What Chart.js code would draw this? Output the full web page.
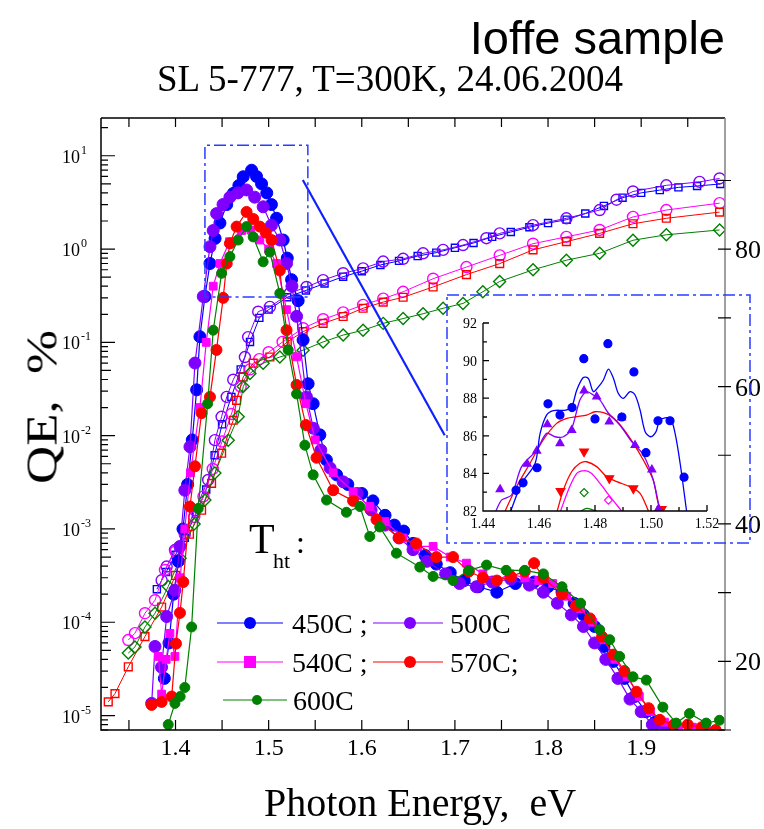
<!DOCTYPE html>
<html>
<head>
<meta charset="utf-8">
<script src="https://cdn.jsdelivr.net/npm/chart.js@4.4.1/dist/chart.umd.min.js"></script>
<style>
body { margin:0; background:#fff; }
#wrap { position:relative; width:764px; height:829px; overflow:hidden; }
#main { position:absolute; left:0; top:0; }
#inset { position:absolute; left:440px; top:290px; }
.txt { position:absolute; white-space:nowrap; color:#000; line-height:1; }
</style>
</head>
<body>
<div id="wrap">
  <canvas id="main" width="764" height="829"></canvas>
  <canvas id="inset" width="320" height="260"></canvas>
  <div class="txt" id="ioffe" style="right:39px;top:10px;font:47px 'Liberation Sans',Arial,sans-serif;">Ioffe sample</div>
  <div class="txt" id="title" style="left:390px;top:57px;transform:translateX(-50%);font:37px 'Liberation Serif','Times New Roman',serif;">SL 5-777, T=300K, 24.06.2004</div>
  <div class="txt" id="xtitle" style="left:420px;top:779px;transform:translateX(-50%);font:40px 'Liberation Serif','Times New Roman',serif;">Photon Energy,&nbsp; eV</div>
  <div class="txt" id="ytitle" style="left:42px;top:407px;transform:translate(-50%,-50%) rotate(-90deg) scaleX(1.2);font:44px 'Liberation Serif','Times New Roman',serif;">QE,&nbsp; %</div>
</div>
<script>
// ---- tick labels ----
var xMajor = [1.4, 1.5, 1.6, 1.7, 1.8, 1.9];
var xMinor = [1.35, 1.45, 1.55, 1.65, 1.75, 1.85, 1.95];
var qeDecades = [1e-5, 1e-4, 1e-3, 1e-2, 1e-1, 1e0, 1e1];
var qeExponents = ["-5", "-4", "-3", "-2", "-1", "0", "1"];
var rightMajor = [20, 40, 60, 80];
var rightMinor = [10, 30, 50, 70, 90];
var insetXTicks = [1.44, 1.46, 1.48, 1.50, 1.52];
var insetXLabels = ["1.44", "1.46", "1.48", "1.50", "1.52"];
var insetYTicks = [82, 84, 86, 88, 90, 92];

// ---- legend ----
var legendNames = ["450C ;", "500C", "540C ;", "570C;", "600C"];

// ---- QE, filled markers (left log axis) [eV, %] ----
var qe450 = [
 [1.388,2.5e-5],[1.393,6e-5],[1.398,2e-4],[1.403,4.5e-4],[1.408,1.0e-3],[1.413,3e-3],[1.418,9e-3],
 [1.4227,0.031],[1.4262,0.115],[1.4316,0.31],[1.437,0.70],[1.4425,1.3],[1.4477,1.9],[1.455,3.0],
 [1.462,3.95],[1.468,4.8],[1.4727,5.96],[1.4817,7.0],[1.487,6.0],[1.4924,5.0],[1.498,4.0],
 [1.503,3.0],[1.5085,2.14],[1.5156,1.25],[1.520,0.8],[1.5246,0.47],[1.5317,0.28],[1.537,0.106],
 [1.5424,0.036],[1.5478,0.022],[1.555,0.0102],[1.562,0.0055],[1.573,0.0038],[1.585,0.0030],
 [1.600,0.0024],[1.612,0.0020],[1.625,0.0014],[1.635,0.0011],[1.645,0.00095],[1.655,0.0007],
 [1.668,0.00052],[1.680,0.00042],[1.695,0.00034],[1.710,0.00028],[1.725,0.00024],[1.745,0.00021],
 [1.765,0.00026],[1.785,0.00027],[1.800,0.00024],[1.815,0.00021],[1.828,0.00016],[1.838,0.00012],
 [1.850,9e-5],[1.860,5.5e-5],[1.870,3.8e-5],[1.882,2.5e-5],[1.893,1.6e-5],[1.905,1.1e-5],
 [1.915,8.5e-6],[1.925,7.2e-6]
];
var qe500 = [
 [1.3744,1.35e-5],[1.378,5.5e-5],[1.385,3.3e-5],[1.3905,1.15e-4],[1.3994,2.2e-4],[1.4047,6.5e-4],
 [1.410,2.6e-3],[1.4155,7.6e-3],[1.4209,0.06],[1.4298,0.31],[1.437,1.06],[1.4405,1.58],[1.4441,2.4],
 [1.451,3.0],[1.4584,3.6],[1.467,4.0],[1.4763,4.3],[1.485,3.6],[1.4941,2.84],[1.503,1.8],[1.512,1.25],
 [1.5192,0.70],[1.525,0.4],[1.530,0.19],[1.5406,0.026],[1.548,0.012],[1.556,0.007],[1.566,0.0045],
 [1.580,0.0032],[1.595,0.0024],[1.610,0.0016],[1.625,0.0011],[1.640,0.0008],[1.655,0.0006],
 [1.670,0.00045],[1.690,0.00033],[1.705,0.00026],[1.723,0.00024],[1.740,0.00027],[1.760,0.00029],
 [1.780,0.00025],[1.795,0.00021],[1.810,0.00016],[1.825,0.00012],[1.838,9e-5],[1.850,6e-5],
 [1.862,4e-5],[1.875,2.5e-5],[1.888,1.5e-5],[1.900,1.1e-5],[1.912,8e-6],[1.923,7e-6]
];
var qe540 = [
 [1.3815,4.3e-5],[1.3851,1.7e-5],[1.390,4e-5],[1.394,7.6e-5],[1.3994,4.3e-5],[1.405,3e-4],
 [1.410,1e-3],[1.416,4e-3],[1.4262,0.02],[1.433,0.1],[1.4405,0.40],[1.4477,0.70],[1.458,1.2],
 [1.471,1.58],[1.481,1.6],[1.4906,1.25],[1.500,1.0],[1.5085,0.70],[1.5192,0.224],[1.530,0.070],
 [1.540,0.022],[1.550,0.009],[1.5693,0.0040],[1.5907,0.0025],[1.6086,0.00174],[1.625,0.0012],
 [1.6444,0.0008],[1.660,0.00065],[1.6766,0.00065],[1.695,0.0005],[1.7124,0.00043],[1.730,0.00033],
 [1.745,0.00028],[1.759,0.00033],[1.775,0.00030],[1.790,0.00028],[1.805,0.00026],[1.820,0.00019],
 [1.835,0.00014],[1.848,1e-4],[1.860,6.5e-5],[1.872,4e-5],[1.885,2.6e-5],[1.898,1.6e-5],
 [1.910,1.1e-5],[1.925,8.5e-6],[1.940,7.5e-6],[1.955,7.5e-6],[1.970,7e-6]
];
var qe570 = [
 [1.3744,1.3e-5],[1.3851,1.4e-5],[1.3959,1.6e-5],[1.4005,5.9e-5],[1.4048,1.26e-4],[1.4083,2.7e-4],
 [1.4155,1.74e-3],[1.4209,4.7e-3],[1.428,0.0174],[1.437,0.026],[1.444,0.083],[1.4512,0.3],[1.455,0.7],
 [1.4584,1.15],[1.4656,1.74],[1.4763,2.5],[1.4835,2.1],[1.4906,1.74],[1.497,1.5],[1.5031,1.25],
 [1.512,0.59],[1.5192,0.135],[1.530,0.035],[1.540,0.013],[1.5514,0.0058],[1.5693,0.0026],
 [1.5907,0.0020],[1.6158,0.00126],[1.640,0.0008],[1.6585,0.0007],[1.680,0.0005],[1.698,0.0005],
 [1.715,0.00035],[1.730,0.0003],[1.745,0.00028],[1.760,0.00031],[1.775,0.00035],[1.785,0.00043],
 [1.795,0.00030],[1.815,0.00020],[1.830,0.00015],[1.845,0.00011],[1.858,7e-5],[1.870,4.5e-5],
 [1.882,3e-5],[1.895,1.8e-5],[1.908,1.2e-5],[1.920,9e-6],[1.935,8e-6],[1.950,8e-6],[1.965,7.5e-6],[1.980,7e-6]
];
var qe600 = [
 [1.3922,8e-6],[1.3994,1.35e-5],[1.405,1.6e-5],[1.410,2.0e-5],[1.4173,8.9e-5],[1.4244,1.66e-3],
 [1.4345,0.022],[1.4405,0.135],[1.4495,0.55],[1.4584,0.83],[1.4673,1.25],[1.4763,1.74],[1.4834,1.35],
 [1.4941,0.73],[1.5013,0.93],[1.512,0.335],[1.521,0.083],[1.530,0.028],[1.5389,0.0079],[1.5478,0.0038],
 [1.5622,0.00204],[1.5835,0.00151],[1.598,0.00174],[1.6086,0.00083],[1.6193,0.00105],[1.6372,0.00055],
 [1.6623,0.00039],[1.6766,0.00031],[1.698,0.00028],[1.715,0.00036],[1.734,0.00041],[1.755,0.00036],
 [1.775,0.00036],[1.795,0.00033],[1.815,0.00024],[1.835,0.00016],[1.8554,8.3e-5],[1.8662,6.5e-5],
 [1.8769,4.3e-5],[1.8912,2.6e-5],[1.9055,2.4e-5],[1.9233,1.23e-5],[1.9376,8.3e-6],[1.9519,1.05e-5],
 [1.9698,8.3e-6],[1.984,8.9e-6]
];

// ---- open markers (right linear axis) [eV, value] ----
var open450 = [
 [1.380,30.5],[1.390,33],[1.400,35.5],[1.410,38],[1.422,41.5],[1.433,45],[1.442,50],[1.450,54.5],
 [1.460,58.5],[1.470,62.5],[1.480,66.5],[1.490,70],[1.500,71.2],[1.520,73],[1.540,74],[1.560,75],
 [1.580,76],[1.600,76.8],[1.620,77.7],[1.640,78.3],[1.660,79],[1.680,79.5],[1.700,80.2],[1.720,80.9],
 [1.740,81.8],[1.760,82.5],[1.780,83.2],[1.800,83.8],[1.820,84.3],[1.840,85.2],[1.860,86.3],
 [1.880,87.5],[1.900,88.2],[1.920,88.6],[1.940,89],[1.960,89.2],[1.985,89.5]
];
var open500 = [
 [1.3851,31.8],[1.3905,33.8],[1.3994,36.2],[1.41,38.6],[1.4209,42.0],[1.4351,46.4],[1.4423,52.2],
 [1.4495,55.6],[1.455,58.5],[1.462,61],[1.4745,64.3],[1.478,67.2],[1.4888,70.9],[1.5013,71.6],
 [1.5228,73.6],[1.5407,74.5],[1.5585,75.5],[1.58,76.5],[1.6014,77.2],[1.623,78.2],[1.6444,78.6],
 [1.6658,79.4],[1.6873,79.9],[1.7087,80.6],[1.7338,81.6],[1.7481,82.3],[1.7839,83.5],[1.8197,84.5],
 [1.8554,85.7],[1.8735,87.2],[1.8912,88.4],[1.927,89.3],[1.9627,89.8],[1.9842,90.3]
];
var open540 = [
 [1.3493,23.1],[1.3565,24.1],[1.3672,27.0],[1.378,28.9],[1.3887,33.3],[1.400,36],[1.410,38.5],
 [1.420,41],[1.430,44],[1.440,48],[1.450,52],[1.460,56],[1.470,60],[1.480,62.5],[1.490,64],
 [1.500,65],[1.515,66.5],[1.537,68.5],[1.5585,69.8],[1.58,70.8],[1.6014,71.9],[1.623,72.8],
 [1.6444,73.8],[1.6766,75.7],[1.7124,77.4],[1.7481,79.1],[1.7839,80.8],[1.8197,81.8],[1.8554,82.8],
 [1.8912,84.7],[1.927,85.7],[1.9842,86.7]
];
var open570 = [
 [1.3278,14.1],[1.335,15.3],[1.3493,19.2],[1.3672,23.6],[1.3851,27.9],[1.400,32.5],[1.415,38.5],
 [1.428,42.0],[1.4387,45.9],[1.4495,50.3],[1.4620,55.1],[1.4656,58.0],[1.4727,61.4],[1.4834,63.4],
 [1.5013,64.3],[1.52,66.5],[1.537,68.0],[1.5585,69.2],[1.58,70.2],[1.6014,71.4],[1.623,72.3],
 [1.6444,73.0],[1.6766,74.5],[1.7124,76.3],[1.7481,77.9],[1.7839,79.9],[1.8197,81.1],[1.8554,82.3],
 [1.8912,83.7],[1.927,84.5],[1.9842,85.4]
];
var open600 = [
 [1.3493,21.2],[1.3565,22.1],[1.3672,25.0],[1.378,27.0],[1.3922,30.9],[1.405,35],[1.420,40],
 [1.4316,43.5],[1.4423,47.4],[1.4566,52.2],[1.4673,55.6],[1.4727,60.0],[1.4799,61.9],[1.4941,63.4],
 [1.512,64.3],[1.537,65.3],[1.5585,66.5],[1.58,67.5],[1.6014,68.2],[1.623,69.2],[1.6444,69.9],
 [1.6658,70.6],[1.6873,71.4],[1.7087,72.1],[1.73,73.8],[1.748,75.3],[1.7839,77.0],[1.8197,78.4],
 [1.8554,79.4],[1.8912,81.3],[1.927,82.1],[1.9842,82.8]
];

// ---- zoom box and link line on the main plot [eV, QE] ----
var zoomBox = [[1.4316,0.306],[1.4316,13],[1.5421,13],[1.5421,0.306],[1.4316,0.306]];
var zoomLink = [[1.5367,5.5],[1.689,0.0101]];

// ---- inset [eV, value] ----
var inBluePts = [
 [1.4518,83.1],[1.4543,83.5],[1.4593,84.3],[1.4632,87.7],[1.4675,87.1],[1.4718,87.5],[1.476,90.1],
 [1.480,86.9],[1.4846,90.9],[1.4896,87.0],[1.4939,89.4],[1.4982,85.1],[1.5025,86.8],[1.5068,86.8],[1.5118,83.8]
];
var inBlueLine = [
 [1.4499,82.0],[1.4538,83.47],[1.4586,84.53],[1.4604,86.13],[1.4627,87.1],[1.4651,87.34],[1.4696,87.37],
 [1.4717,87.55],[1.4735,88.44],[1.4758,89.1],[1.4776,89.05],[1.4794,88.35],[1.4812,88.6],[1.4830,88.97],
 [1.4848,89.55],[1.4866,89.05],[1.4883,88.26],[1.4901,87.99],[1.4925,88.35],[1.4943,88.17],[1.4961,87.37],
 [1.4979,86.22],[1.4999,85.95],[1.5018,86.22],[1.5032,86.84],[1.5068,86.93],[1.5086,86.13],[1.5104,84.54],[1.5127,82.0]
];
var inPurplePts = [
 [1.4461,83.15],[1.4558,84.5],[1.4592,85.2],[1.463,86.6],[1.4675,85.6],[1.4717,86.3],[1.4761,88.4],
 [1.4806,88.08],[1.4851,86.75],[1.4895,86.96],[1.4943,85.5],[1.5003,84.2],[1.5026,82.1]
];
var inPurpleLine = [
 [1.4446,82.0],[1.4467,82.59],[1.4502,82.85],[1.4538,84.36],[1.4592,85.24],[1.4627,86.13],[1.4657,85.95],
 [1.4687,85.95],[1.4717,86.4],[1.4746,87.9],[1.4770,88.35],[1.4794,88.17],[1.4818,87.9],[1.4848,87.2],
 [1.4889,86.57],[1.4931,85.69],[1.4973,84.98],[1.5008,83.65],[1.5032,82.0]
];
var inRedLine = [
 [1.4479,82],[1.452,83.29],[1.4568,84.54],[1.4615,85.78],[1.4663,86.66],[1.4699,86.93],[1.4735,87.02],
 [1.477,87.1],[1.48,87.28],[1.483,87.23],[1.486,87.02],[1.4895,86.48],[1.4937,85.6],[1.4973,84.7],
 [1.5008,83.65],[1.5026,82.4],[1.5042,82]
];
var inRed2Pts = [[1.4677,83.06],[1.4761,85.16],[1.4851,83.74],[1.4937,83.2],[1.5038,82.1]];
var inRed2Line = [
 [1.4665,82],[1.4687,83.12],[1.4717,84.1],[1.4746,84.54],[1.477,84.62],[1.4806,84.36],[1.4842,83.82],
 [1.4878,83.56],[1.4925,83.29],[1.4961,82.94],[1.4991,82]
];
var inMagentaLine = [
 [1.4677,82],[1.4705,83.12],[1.4735,84.0],[1.4764,84.15],[1.4788,84.0],[1.4818,83.47],[1.4854,82.76],[1.4895,82]
];
var inMagentaPts = [[1.4848,82.58]];
var inGreenPts = [[1.4761,82.98]];
var inGreenLine = [[1.4750,82],[1.4770,82.14],[1.4794,82.05],[1.4805,82]];

var BLUE = "#0000ff", PURPLE = "#8000ff", MAGENTA = "#ff00ff", RED = "#ff0000", GREEN = "#008000";
var SERIF = "'Liberation Serif','Times New Roman',serif";

function xy(pts) { return pts.map(p => ({x: p[0], y: p[1]})); }

function filledSet(label, pts, color, style, r, order) {
    return { label: label, data: xy(pts), yAxisID: "y", showLine: true,
        borderColor: color, backgroundColor: color, borderWidth: 1.2,
        pointStyle: style, pointRadius: r, pointBorderWidth: 1,
        pointBackgroundColor: color, pointBorderColor: color, order: order };
}
function openSet(label, pts, color, style, r, order) {
    return { label: label, data: xy(pts), yAxisID: "y2", showLine: true,
        borderColor: color, backgroundColor: "rgba(255,255,255,0)", borderWidth: 1,
        pointStyle: style, pointRadius: r, pointBorderWidth: 1.4,
        pointBackgroundColor: "rgba(255,255,255,0)", pointBorderColor: color, order: order };
}

function marker(ctx, style, x, y, r, color) {
    ctx.fillStyle = color;
    ctx.beginPath();
    if (style == "rect") ctx.rect(x - r, y - r, 2 * r, 2 * r);
    else ctx.arc(x, y, r, 0, Math.PI * 2);
    ctx.fill();
}

var mainAxes = {
    id: "mainAxes",
    afterDatasetsDraw: function(chart) {
        var ctx = chart.ctx, a = chart.chartArea;
        var sx = chart.scales.x, sy = chart.scales.y, sy2 = chart.scales.y2;
        ctx.save();
        // frame
        ctx.strokeStyle = "#000";
        ctx.lineWidth = 1.5;
        ctx.beginPath();
        ctx.moveTo(a.left, a.top); ctx.lineTo(a.left, a.bottom); ctx.lineTo(a.right, a.bottom);
        ctx.moveTo(a.left, a.top); ctx.lineTo(a.right, a.top);
        ctx.stroke();
        ctx.strokeStyle = "#808080";
        ctx.beginPath(); ctx.moveTo(a.right, a.top); ctx.lineTo(a.right, a.bottom); ctx.stroke();

        // x ticks, bottom and top, pointing in
        ctx.strokeStyle = "#000";
        ctx.lineWidth = 1.2;
        ctx.beginPath();
        xMajor.concat(xMinor).forEach(function(v) {
            var px = sx.getPixelForValue(v);
            ctx.moveTo(px, a.bottom); ctx.lineTo(px, a.bottom - 10);
            ctx.moveTo(px, a.top); ctx.lineTo(px, a.top + 9);
        });
        ctx.stroke();
        ctx.fillStyle = "#000";
        ctx.font = "24px " + SERIF;
        ctx.textAlign = "center";
        ctx.textBaseline = "alphabetic";
        xMajor.forEach(function(v) {
            ctx.fillText(v.toFixed(1), sx.getPixelForValue(v), a.bottom + 25);
        });

        // left log ticks
        ctx.beginPath();
        qeDecades.forEach(function(d) {
            var py = sy.getPixelForValue(d);
            ctx.moveTo(a.left, py); ctx.lineTo(a.left + 14, py);
        });
        [1e-6, 1e-5, 1e-4, 1e-3, 1e-2, 1e-1, 1, 10].forEach(function(d) {
            for (var k = 2; k <= 9; k++) {
                var v = k * d;
                if (v < sy.min || v > sy.max) continue;
                var py = sy.getPixelForValue(v);
                ctx.moveTo(a.left, py); ctx.lineTo(a.left + (k == 5 ? 10 : 7), py);
            }
        });
        ctx.stroke();
        qeDecades.forEach(function(d, i) {
            var py = sy.getPixelForValue(d);
            ctx.textAlign = "right";
            ctx.font = "18px " + SERIF;
            ctx.fillText("10", 80, py + 7);
            ctx.textAlign = "left";
            ctx.font = "12px " + SERIF;
            ctx.fillText(qeExponents[i], 81, py - 2);
        });

        // right linear ticks
        ctx.strokeStyle = "#000";
        ctx.beginPath();
        rightMajor.concat(rightMinor).forEach(function(v) {
            var py = sy2.getPixelForValue(v);
            ctx.moveTo(a.right - 7, py); ctx.lineTo(a.right + 6, py);
        });
        ctx.stroke();
        ctx.font = "26px " + SERIF;
        ctx.textAlign = "left";
        rightMajor.forEach(function(v) {
            ctx.fillText(String(v), a.right + 10, sy2.getPixelForValue(v) + 9);
        });

        // legend block
        ctx.font = "42px " + SERIF;
        ctx.fillText("T", 249, 553);
        ctx.font = "22px " + SERIF;
        ctx.fillText("ht", 273, 568);
        ctx.font = "32px " + SERIF;
        ctx.fillText(":", 296, 553);
        var rows = [
            [217, 283, 250, 623, BLUE, "circle", 6, 292, legendNames[0]],
            [373, 443, 410, 623, PURPLE, "circle", 6, 450, legendNames[1]],
            [217, 283, 250, 662, MAGENTA, "rect", 6, 292, legendNames[2]],
            [373, 443, 410, 662, RED, "circle", 6, 450, legendNames[3]],
            [223, 287, 257, 700, GREEN, "circle", 5, 293, legendNames[4]]
        ];
        ctx.font = "28px " + SERIF;
        rows.forEach(function(r) {
            ctx.strokeStyle = r[4];
            ctx.lineWidth = 1;
            ctx.beginPath(); ctx.moveTo(r[0], r[3]); ctx.lineTo(r[1], r[3]); ctx.stroke();
            marker(ctx, r[5], r[2], r[3], r[6], r[4]);
            ctx.fillStyle = "#000";
            ctx.fillText(r[8], r[7], r[3] + 10);
        });
        ctx.restore();
    }
};

new Chart(document.getElementById("main"), {
    type: "scatter",
    data: {
        datasets: [
            { label: "zoom", data: xy(zoomBox), yAxisID: "y", showLine: true, borderColor: "#2a3cff",
              borderWidth: 1.5, borderDash: [12, 4, 3, 4], pointRadius: 0, order: 0 },
            { label: "link", data: xy(zoomLink), yAxisID: "y", showLine: true, borderColor: "#1020ff",
              borderWidth: 2.2, pointRadius: 0, order: 0 },
            filledSet("600C", qe600, GREEN, "circle", 5, 1),
            filledSet("570C", qe570, RED, "circle", 5.5, 2),
            filledSet("540C", qe540, MAGENTA, "rect", 5.5, 3),
            filledSet("500C", qe500, PURPLE, "circle", 6, 4),
            filledSet("450C", qe450, BLUE, "circle", 6, 5),
            openSet("600C R", open600, GREEN, "rectRot", 6, 6),
            openSet("570C R", open570, RED, "rect", 5.5, 7),
            openSet("540C R", open540, MAGENTA, "circle", 5.5, 8),
            openSet("500C R", open500, PURPLE, "circle", 5.5, 9),
            openSet("450C R", open450, BLUE, "rect", 5, 10)
        ]
    },
    options: {
        responsive: false,
        animation: false,
        devicePixelRatio: 1,
        layout: { padding: { left: 101, top: 118, right: 39, bottom: 99 } },
        plugins: { legend: { display: false }, tooltip: { enabled: false } },
        scales: {
            x: { type: "linear", min: 1.32, max: 1.99, display: false },
            y: { type: "logarithmic", min: 7e-6, max: 25.4, display: false },
            y2: { type: "linear", position: "right", min: 10, max: 99.1, display: false }
        }
    },
    plugins: [mainAxes]
});

var insetAxes = {
    id: "insetAxes",
    beforeDatasetsDraw: function(chart) {
        var ctx = chart.ctx;
        ctx.save();
        ctx.strokeStyle = "#2a3cff";
        ctx.lineWidth = 1.5;
        ctx.setLineDash([12, 4, 3, 4]);
        ctx.strokeRect(7, 5, 303, 248);
        ctx.restore();
    },
    afterDatasetsDraw: function(chart) {
        var ctx = chart.ctx, a = chart.chartArea;
        var sx = chart.scales.x, sy = chart.scales.y;
        ctx.save();
        ctx.strokeStyle = "#000";
        ctx.lineWidth = 1.3;
        ctx.beginPath();
        ctx.moveTo(a.left, a.top); ctx.lineTo(a.left, a.bottom); ctx.lineTo(a.right, a.bottom);
        insetXTicks.forEach(function(v) {
            var px = sx.getPixelForValue(v);
            ctx.moveTo(px, a.bottom); ctx.lineTo(px, a.bottom - 6);
            var pm = sx.getPixelForValue(v + 0.01);
            if (v + 0.01 < sx.max) { ctx.moveTo(pm, a.bottom); ctx.lineTo(pm, a.bottom - 4); }
        });
        insetYTicks.forEach(function(v) {
            var py = sy.getPixelForValue(v);
            ctx.moveTo(a.left, py); ctx.lineTo(a.left + 6, py);
            if (v + 1 < sy.max) {
                var pm = sy.getPixelForValue(v + 1);
                ctx.moveTo(a.left, pm); ctx.lineTo(a.left + 4, pm);
            }
        });
        ctx.stroke();
        ctx.fillStyle = "#000";
        ctx.font = "14px " + SERIF;
        ctx.textAlign = "center";
        insetXTicks.forEach(function(v, i) {
            ctx.fillText(insetXLabels[i], sx.getPixelForValue(v), a.bottom + 17);
        });
        ctx.textAlign = "right";
        insetYTicks.forEach(function(v) {
            ctx.fillText(String(v), a.left - 6, sy.getPixelForValue(v) + 5);
        });
        ctx.restore();
    }
};

function insetLine(pts, color, order) {
    return { data: xy(pts), showLine: true, borderColor: color, borderWidth: 1.3,
             pointRadius: 0, tension: 0.3, order: order };
}
function insetPts(pts, color, style, r, filled, rot, order) {
    return { data: xy(pts), showLine: false, pointStyle: style, pointRadius: r, pointRotation: rot,
             pointBackgroundColor: filled ? color : "rgba(255,255,255,0)", pointBorderColor: color,
             pointBorderWidth: 1.2, order: order };
}

new Chart(document.getElementById("inset"), {
    type: "scatter",
    data: {
        datasets: [
            insetPts(inBluePts, BLUE, "circle", 4, true, 0, 1),
            insetLine(inBlueLine, BLUE, 2),
            insetPts(inPurplePts, PURPLE, "triangle", 4.5, true, 0, 3),
            insetLine(inPurpleLine, PURPLE, 4),
            insetLine(inRedLine, RED, 5),
            insetPts(inRed2Pts, RED, "triangle", 5, true, 180, 6),
            insetLine(inRed2Line, RED, 7),
            insetLine(inMagentaLine, MAGENTA, 8),
            insetPts(inMagentaPts, MAGENTA, "rectRot", 4, false, 0, 9),
            insetPts(inGreenPts, GREEN, "rectRot", 4, false, 0, 10),
            insetLine(inGreenLine, GREEN, 11)
        ]
    },
    options: {
        responsive: false,
        animation: false,
        devicePixelRatio: 1,
        layout: { padding: { left: 43, top: 33, right: 53, bottom: 39 } },
        plugins: { legend: { display: false }, tooltip: { enabled: false } },
        scales: {
            x: { type: "linear", min: 1.44, max: 1.52, display: false },
            y: { type: "linear", min: 82, max: 92, display: false }
        }
    },
    plugins: [insetAxes]
});
</script>
</body>
</html>
